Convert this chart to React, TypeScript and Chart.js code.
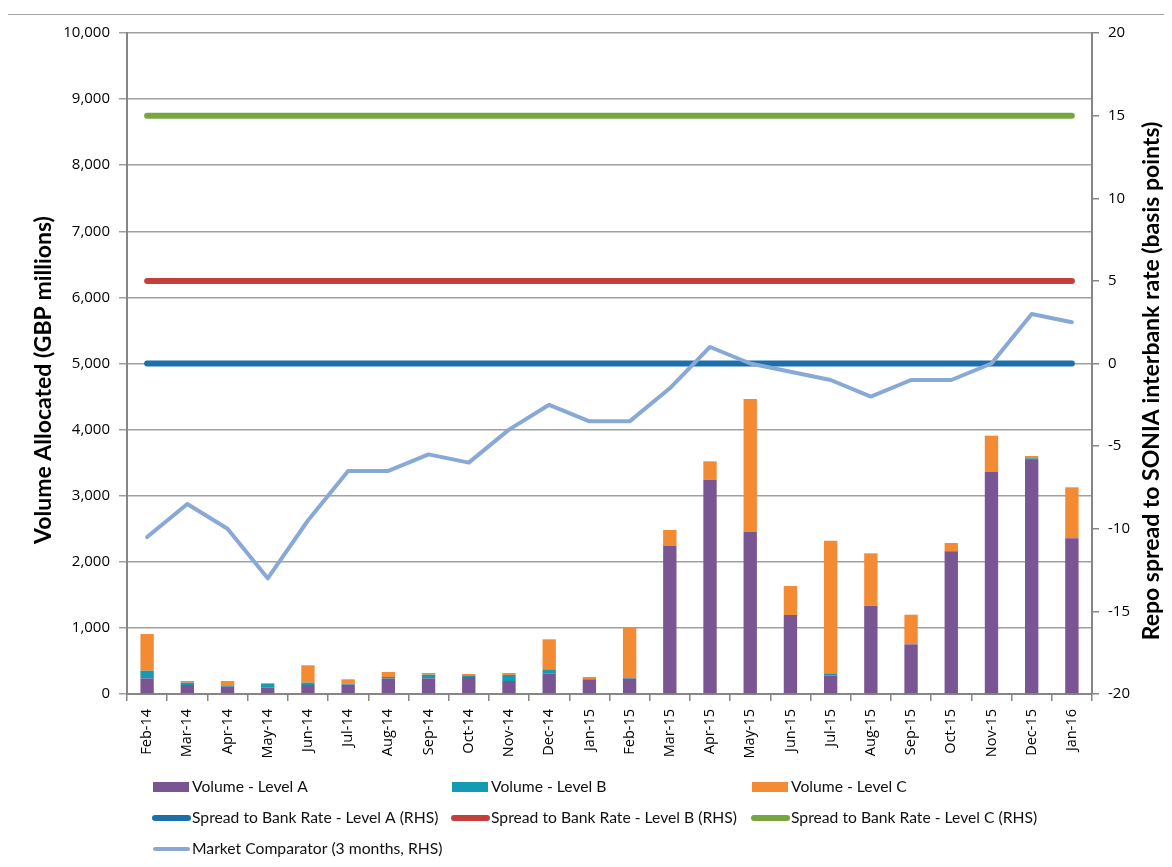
import React, { useEffect, useRef } from "react";
import { Chart, registerables } from "chart.js";

Chart.register(...registerables);

const months = [
  "Feb-14", "Mar-14", "Apr-14", "May-14", "Jun-14", "Jul-14", "Aug-14", "Sep-14",
  "Oct-14", "Nov-14", "Dec-14", "Jan-15", "Feb-15", "Mar-15", "Apr-15", "May-15",
  "Jun-15", "Jul-15", "Aug-15", "Sep-15", "Oct-15", "Nov-15", "Dec-15", "Jan-16",
];

const volumeA = [237, 136, 110, 100, 136, 141, 232, 237, 257, 197, 313, 222, 232, 2239, 3238, 2455, 1195, 277, 1336, 751, 2158, 3359, 3540, 2356];
const volumeB = [115, 35, 20, 60, 35, 15, 25, 55, 25, 91, 60, 0, 10, 0, 0, 0, 0, 36, 0, 0, 0, 0, 26, 0];
const volumeC = [555, 26, 67, 0, 263, 66, 76, 26, 21, 30, 454, 35, 760, 242, 282, 2008, 439, 2006, 792, 449, 126, 549, 35, 771];

const spreadA = [0, 0, 0, 0, 0, 0, 0, 0, 0, 0, 0, 0, 0, 0, 0, 0, 0, 0, 0, 0, 0, 0, 0, 0];
const spreadB = [5, 5, 5, 5, 5, 5, 5, 5, 5, 5, 5, 5, 5, 5, 5, 5, 5, 5, 5, 5, 5, 5, 5, 5];
const spreadC = [15, 15, 15, 15, 15, 15, 15, 15, 15, 15, 15, 15, 15, 15, 15, 15, 15, 15, 15, 15, 15, 15, 15, 15];
const marketComparator = [-10.5, -8.5, -10, -13, -9.5, -6.5, -6.5, -5.5, -6, -4, -2.5, -3.5, -3.5, -1.5, 1, 0, -0.5, -1, -2, -1, -1, 0, 3, 2.5];

const seriesLabels = [
  "Volume - Level A",
  "Volume - Level B",
  "Volume - Level C",
  "Spread to Bank Rate - Level A (RHS)",
  "Spread to Bank Rate - Level B (RHS)",
  "Spread to Bank Rate - Level C (RHS)",
  "Market Comparator (3 months, RHS)",
];

const leftTitle = "Volume Allocated (GBP millions)";
const rightTitle = "Repo spread to SONIA interbank rate (basis points)";

const COLORS = {
  a: "#7A5593",
  b: "#139BB4",
  c: "#F38A34",
  sa: "#1B6FAA",
  sb: "#C43F3C",
  sc: "#77A641",
  mc: "#88A9D5",
};

const TICK_FONT = "'Open Sans', sans-serif";
const TEXT_FONT = "Lato, 'Open Sans', sans-serif";

const decorPlugin = {
  id: "decor",
  afterDraw(chart: any) {
    const ctx = chart.ctx;
    ctx.save();
    // outer frame
    ctx.strokeStyle = "#a6a6a6";
    ctx.lineWidth = 1;
    ctx.strokeRect(7.5, 14.5, 1400, 1000);

    // axis titles
    ctx.fillStyle = "#000";
    ctx.font = `bold 23px ${TEXT_FONT}`;
    ctx.textAlign = "center";
    ctx.textBaseline = "middle";
    ctx.save();
    ctx.translate(44, 380);
    ctx.rotate(-Math.PI / 2);
    ctx.fillText(leftTitle, 0, 0);
    ctx.restore();
    ctx.save();
    ctx.translate(1152, 381);
    ctx.rotate(-Math.PI / 2);
    ctx.fillText(rightTitle, 0, 0);
    ctx.restore();

    // legend (3 columns)
    const colX = [153, 452, 752];
    const rowY = [787, 818, 849];
    chart.data.datasets.forEach((ds: any, i: number) => {
      const x = colX[i % 3];
      const y = rowY[Math.floor(i / 3)];
      if (ds.type === "bar" || !ds.type) {
        ctx.fillStyle = ds.backgroundColor;
        ctx.fillRect(x, y - 5, 36, 10);
      } else {
        ctx.strokeStyle = ds.borderColor;
        ctx.lineWidth = ds.legendWidth;
        ctx.lineCap = "round";
        ctx.beginPath();
        ctx.moveTo(x + 2, y);
        ctx.lineTo(x + 35, y);
        ctx.stroke();
      }
      ctx.fillStyle = "#111";
      ctx.font = `15.7px ${TEXT_FONT}`;
      ctx.textAlign = "left";
      ctx.textBaseline = "middle";
      ctx.fillText(ds.label, x + 39, y);
    });
    ctx.restore();
  },
};

export default function App() {
  const ref = useRef<HTMLCanvasElement | null>(null);

  useEffect(() => {
    if (!ref.current) return;
    const barCommon = {
      type: "bar" as const,
      yAxisID: "y",
      stack: "vol",
      order: 2,
      categoryPercentage: 0.8,
      barPercentage: 0.415,
    };
    const lineCommon = {
      type: "line" as const,
      yAxisID: "y1",
      pointRadius: 0,
      pointHoverRadius: 0,
      fill: false,
      tension: 0,
      borderCapStyle: "round" as const,
      borderJoinStyle: "round" as const,
    };
    const chart = new Chart(ref.current, {
      type: "bar",
      data: {
        labels: months,
        datasets: [
          { ...barCommon, label: seriesLabels[0], data: volumeA, backgroundColor: COLORS.a },
          { ...barCommon, label: seriesLabels[1], data: volumeB, backgroundColor: COLORS.b },
          { ...barCommon, label: seriesLabels[2], data: volumeC, backgroundColor: COLORS.c },
          { ...lineCommon, label: seriesLabels[3], data: spreadA, borderColor: COLORS.sa, backgroundColor: COLORS.sa, borderWidth: 6, order: 1, legendWidth: 6 } as any,
          { ...lineCommon, label: seriesLabels[4], data: spreadB, borderColor: COLORS.sb, backgroundColor: COLORS.sb, borderWidth: 6, order: 1, legendWidth: 6 } as any,
          { ...lineCommon, label: seriesLabels[5], data: spreadC, borderColor: COLORS.sc, backgroundColor: COLORS.sc, borderWidth: 6, order: 1, legendWidth: 6 } as any,
          { ...lineCommon, label: seriesLabels[6], data: marketComparator, borderColor: COLORS.mc, backgroundColor: COLORS.mc, borderWidth: 4, order: 0, legendWidth: 4 } as any,
        ],
      },
      options: {
        responsive: false,
        animation: false,
        devicePixelRatio: 1,
        layout: { padding: { left: 0, right: 0, top: 33, bottom: 93 } },
        plugins: {
          legend: { display: false },
          tooltip: { enabled: false },
          title: { display: false },
        },
        scales: {
          x: {
            stacked: true,
            offset: true,
            afterFit: (s: any) => { s.height = 80; },
            grid: {
              display: true,
              drawOnChartArea: false,
              drawTicks: true,
              tickLength: 7,
              offset: true,
              color: "#868686",
              lineWidth: 1.5,
            },
            border: { display: true, color: "#868686", width: 2 },
            ticks: {
              autoSkip: false,
              maxRotation: 90,
              minRotation: 90,
              padding: 8,
              color: "#000",
              font: { family: TICK_FONT, size: 14.5 },
            },
          },
          y: {
            type: "linear",
            position: "left",
            stacked: true,
            min: 0,
            max: 10000,
            afterFit: (s: any) => { s.width = 127; },
            grid: {
              color: "#a0a0a0",
              lineWidth: 1.5,
              tickLength: 8,
              drawTicks: true,
            },
            border: { display: true, color: "#868686", width: 2 },
            ticks: {
              stepSize: 1000,
              padding: 9,
              color: "#000",
              font: { family: TICK_FONT, size: 15 },
              callback: (v: any) => Number(v).toLocaleString("en-US"),
            },
          },
          y1: {
            type: "linear",
            position: "right",
            min: -20,
            max: 20,
            afterFit: (s: any) => { s.width = 80; },
            grid: {
              drawOnChartArea: false,
              color: "#868686",
              lineWidth: 1.5,
              tickLength: 7,
            },
            border: { display: true, color: "#868686", width: 2 },
            ticks: {
              stepSize: 5,
              padding: 9,
              color: "#000",
              font: { family: TICK_FONT, size: 15 },
            },
          },
        },
      },
      plugins: [decorPlugin],
    });
    return () => chart.destroy();
  }, []);

  return (
    <div style={{ position: "relative", width: 1156, height: 851 }}>
      <canvas
        ref={ref}
        width={1172}
        height={867}
        style={{ position: "absolute", left: -8, top: -8, width: 1172, height: 867 }}
      />
    </div>
  );
}
